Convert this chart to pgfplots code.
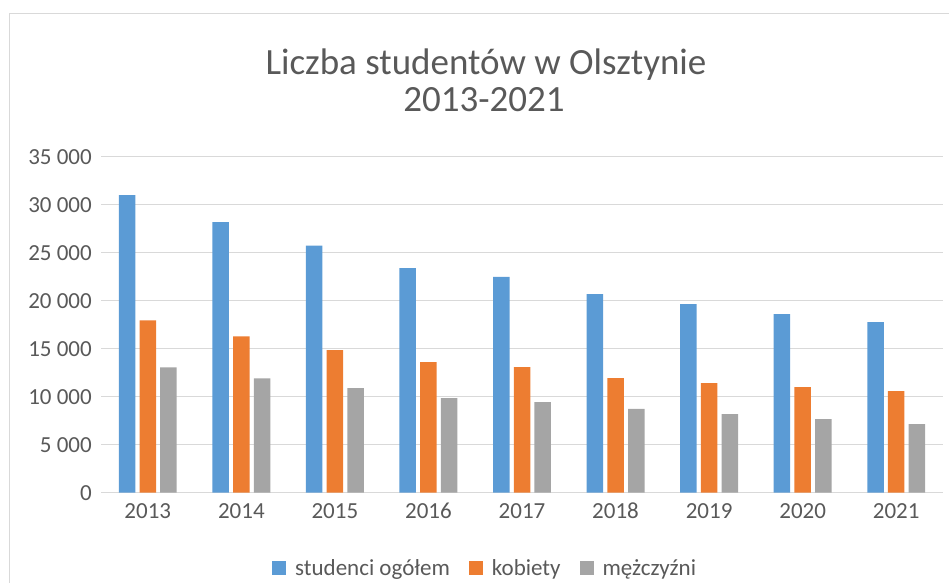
\documentclass[border=0pt]{standalone}
\usepackage{pgfplots}
\pgfplotsset{compat=1.18}
\usepackage{fontspec}
\setmainfont{Carlito}
\definecolor{cblue}{HTML}{5B9BD5}
\definecolor{corange}{HTML}{ED7D31}
\definecolor{cgray}{HTML}{A5A5A5}
\definecolor{ctext}{HTML}{595959}
\definecolor{cgrid}{HTML}{D9D9D9}
\begin{document}
\begin{tikzpicture}
\useasboundingbox (0,0) rectangle (949bp,583bp);
\draw[cgrid, line width=1bp] (9.5bp,0) -- (9.5bp,569bp) -- (949bp,569bp);
\node[anchor=base, text=ctext, font=\fontsize{37bp}{41bp}\selectfont] at (486bp,508bp) {Liczba studentów w Olsztynie};
\node[anchor=base, text=ctext, font=\fontsize{37bp}{41bp}\selectfont] at (484bp,471bp) {2013-2021};
\begin{axis}[
  at={(101bp,90.3bp)}, anchor=south west,
  scale only axis, width=842bp, height=336bp,
  ybar=4.2bp, bar width=16.5bp,
  xmin=-0.5, xmax=8.5, ymin=0, ymax=35000,
  xtick={0,...,8},
  xticklabels={2013,2014,2015,2016,2017,2018,2019,2020,2021},
  ytick={0,5000,...,35000},
  ymajorgrids, major grid style={cgrid, line width=1.4bp},
  axis line style={draw=none},
  major tick length=0pt,
  tick label style={font=\fontsize{23bp}{27bp}\selectfont, text=ctext, inner sep=0pt},
  yticklabel style={anchor=east, xshift=-9bp},
  xticklabel style={anchor=north, yshift=-10.5bp, text height=15bp, text depth=0pt},
  scaled y ticks=false,
  /pgf/number format/.cd, assume math mode=true, 1000 sep={\ }, min exponent for 1000 sep=3,
  /pgfplots/.cd,
  legend columns=3,
  legend style={at={(0.455,-0.224)}, anchor=center, draw=none, fill=none,
    font=\fontsize{23bp}{27bp}\selectfont, text=ctext,
    nodes={inner sep=0pt},
    /tikz/every odd column/.append style={column sep=9bp},
    /tikz/every even column/.append style={column sep=19bp}},
  legend image code/.code={\fill[#1] (0bp,-7bp) rectangle (14bp,7bp);},
]
\addplot[fill=cblue, draw=none] coordinates {(0,31000) (1,28190) (2,25730) (3,23400) (4,22470) (5,20690) (6,19650) (7,18610) (8,17780)};
\addplot[fill=corange, draw=none] coordinates {(0,17950) (1,16280) (2,14860) (3,13610) (4,13090) (5,11940) (6,11420) (7,11010) (8,10590)};
\addplot[fill=cgray, draw=none] coordinates {(0,13060) (1,11910) (2,10900) (3,9860) (4,9440) (5,8720) (6,8190) (7,7670) (8,7150)};
\legend{studenci ogółem, kobiety, mężczyźni}
\end{axis}
\end{tikzpicture}
\end{document}
